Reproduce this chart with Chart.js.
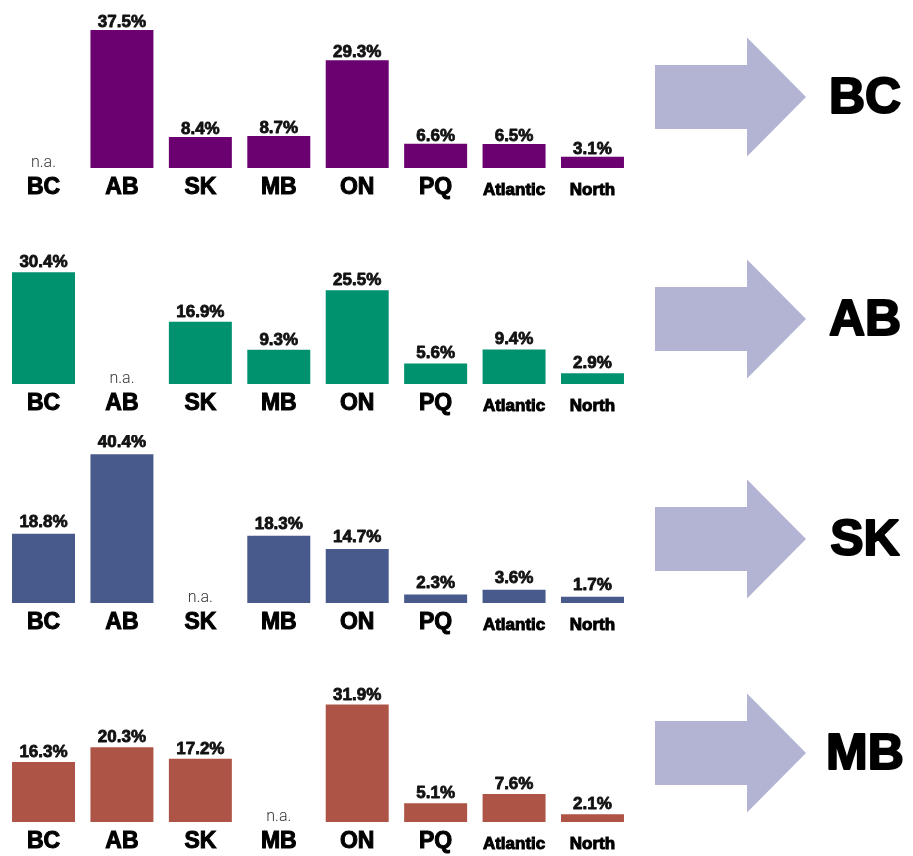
<!DOCTYPE html>
<html>
<head>
<meta charset="utf-8">
<script src="https://cdn.jsdelivr.net/npm/chart.js@4/dist/chart.umd.min.js"></script>
<style>
  html, body { margin: 0; padding: 0; background: #fff; width: 913px; height: 856px; overflow: hidden; }
  .row { position: absolute; left: 0; width: 913px; height: 212px; }
  canvas { display: block; }
</style>
</head>
<body>
<div class="row" style="top:0px"><canvas id="c0" width="913" height="212"></canvas></div>
<div class="row" style="top:216px"><canvas id="c1" width="913" height="212"></canvas></div>
<div class="row" style="top:435px"><canvas id="c2" width="913" height="212"></canvas></div>
<div class="row" style="top:654px"><canvas id="c3" width="913" height="212"></canvas></div>
<script>
// Destination regions along the x axis
const categories = ['BC', 'AB', 'SK', 'MB', 'ON', 'PQ', 'Atlantic', 'North'];
// Origin province of each panel
const origins = ['BC', 'AB', 'SK', 'MB'];
// Share going to each destination, in percent (null = not applicable)
const fromBC = [null, 37.5, 8.4, 8.7, 29.3, 6.6, 6.5, 3.1];
const fromAB = [30.4, null, 16.9, 9.3, 25.5, 5.6, 9.4, 2.9];
const fromSK = [18.8, 40.4, null, 18.3, 14.7, 2.3, 3.6, 1.7];
const fromMB = [16.3, 20.3, 17.2, null, 31.9, 5.1, 7.6, 2.1];
const naText = 'n.a.';

const panels = [fromBC, fromAB, fromSK, fromMB];
const colors = ['#6b0071', '#00916f', '#48598b', '#ad5446'];
const labelGap = [3, 5, 7, 5];          // space between bar top and its value label
const arrowTip = [97, 103, 104, 99];    // arrow centre line within each panel canvas
const FONT = '"Liberation Sans", Arial, sans-serif';

const valueLabels = {
  id: 'valueLabels',
  afterDatasetsDraw(chart, args, opts) {
    const ctx = chart.ctx;
    const xs = chart.scales.x, ys = chart.scales.y;
    const data = chart.data.datasets[0].data;
    const meta = chart.getDatasetMeta(0);
    ctx.save();
    ctx.textAlign = 'center';
    ctx.textBaseline = 'alphabetic';
    ctx.lineJoin = 'round';
    data.forEach((v, i) => {
      const x = xs.getPixelForValue(i);
      if (v === null) {
        ctx.font = '300 16px Roboto, ' + FONT;
        ctx.fillStyle = '#333';
        ctx.fillText(naText, x, ys.getPixelForValue(0) - 1);
      } else {
        const el = meta.data[i];
        const t = v.toFixed(1) + '%';
        ctx.font = 'bold 17px ' + FONT;
        ctx.fillStyle = '#111';
        ctx.strokeStyle = '#111';
        ctx.lineWidth = 0.8;
        ctx.strokeText(t, x, el.y - opts.gap);
        ctx.fillText(t, x, el.y - opts.gap);
      }
    });
    ctx.restore();
  }
};

const flowArrow = {
  id: 'flowArrow',
  afterDraw(chart, args, opts) {
    const ctx = chart.ctx;
    const cy = opts.tip;
    ctx.save();
    ctx.fillStyle = '#b3b3d3';
    ctx.beginPath();
    ctx.moveTo(655, cy - 32);
    ctx.lineTo(747, cy - 32);
    ctx.lineTo(747, cy - 59.5);
    ctx.lineTo(806, cy);
    ctx.lineTo(747, cy + 59.5);
    ctx.lineTo(747, cy + 32);
    ctx.lineTo(655, cy + 32);
    ctx.closePath();
    ctx.fill();
    ctx.fillStyle = '#000';
    ctx.strokeStyle = '#000';
    ctx.lineWidth = 2;
    ctx.lineJoin = 'round';
    ctx.font = 'bold 50px ' + FONT;
    ctx.textAlign = 'center';
    ctx.textBaseline = 'middle';
    ctx.strokeText(opts.label, 865, cy + 2);
    ctx.fillText(opts.label, 865, cy + 2);
    ctx.restore();
  }
};

panels.forEach((values, r) => {
  new Chart(document.getElementById('c' + r), {
    type: 'bar',
    data: {
      labels: categories,
      datasets: [{
        data: values,
        backgroundColor: colors[r],
        borderWidth: 0,
        categoryPercentage: 1,
        barPercentage: 0.803
      }]
    },
    options: {
      responsive: false,
      animation: false,
      events: [],
      layout: { padding: { left: 4.3, right: 281.3, top: 2.4, bottom: 0 } },
      plugins: {
        legend: { display: false },
        tooltip: { enabled: false },
        valueLabels: { gap: labelGap[r] },
        flowArrow: { tip: arrowTip[r], label: origins[r] }
      },
      scales: {
        x: {
          grid: { display: false, drawTicks: false },
          border: { display: false },
          ticks: {
            color: '#000',
            textStrokeColor: '#000',
            textStrokeWidth: 1,
            padding: 6.1,
            autoSkip: false,
            maxRotation: 0,
            font: (c) => c.index >= 6
              ? { family: FONT, size: 17, weight: 'bold', lineHeight: 1.868 }
              : { family: FONT, size: 23, weight: 'bold', lineHeight: 1.2 }
          }
        },
        y: { display: false, min: 0, max: 45 }
      }
    },
    plugins: [valueLabels, flowArrow]
  });
});
</script>
</body>
</html>
